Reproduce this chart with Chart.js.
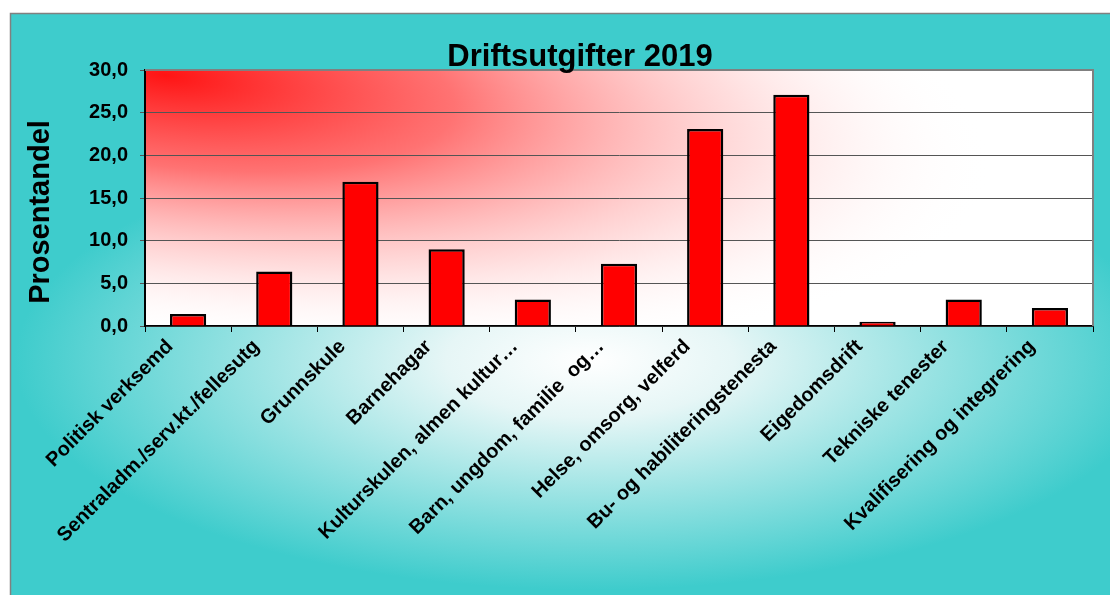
<!DOCTYPE html>
<html>
<head>
<meta charset="utf-8">
<script src="https://cdn.jsdelivr.net/npm/chart.js@4"></script>
<style>
  body { margin: 0; background: #fff; }
  #wrap { width: 1110px; height: 595px; }
</style>
</head>
<body>
<div id="wrap"><canvas id="myBarChart"></canvas></div>
<script>
var kategoriar = ['Politisk verksemd', 'Sentraladm./serv.kt./fellesutg', 'Grunnskule', 'Barnehagar',
    'Kulturskulen, almen kultur…', 'Barn, ungdom, familie  og…', 'Helse, omsorg, velferd',
    'Bu- og habiliteringstenesta', 'Eigedomsdrift', 'Tekniske tenester', 'Kvalifisering og integrering'];
var prosent = [1.4, 6.4, 16.9, 9.0, 3.1, 7.3, 23.1, 27.1, 0.5, 3.1, 2.1];
var yTicks = [0, 5, 10, 15, 20, 25, 30];
var tittel = 'Driftsutgifter 2019';
var yTittel = 'Prosentandel';

var font = '"Liberation Sans", Arial, sans-serif';

// bakgrunn, ramme rundt plottet og titlar
var bakgrunn = {
    id: 'bakgrunn',
    beforeDraw: function (chart) {
        var ctx = chart.ctx;
        var a = chart.chartArea;
        ctx.save();
        // ytre turkis med lys midte
        ctx.save();
        ctx.translate(590, 360);
        ctx.scale(2.5, 1);
        var g = ctx.createRadialGradient(0, 0, 0, 0, 0, 230);
        g.addColorStop(0, '#ffffff');
        g.addColorStop(0.25, '#e6f6f6');
        g.addColorStop(1, '#3ecccc');
        ctx.fillStyle = g;
        ctx.fillRect(-590 / 2.5, -360, 1110 / 2.5, 595);
        ctx.restore();
        ctx.fillStyle = '#ffffff';
        ctx.fillRect(0, 0, 1110, 13);
        ctx.fillRect(0, 0, 10, 595);
        ctx.strokeStyle = '#808080';
        ctx.lineWidth = 1.5;
        ctx.strokeRect(10.5, 13.5, 1110, 600);

        // raud gradient i plottet
        ctx.save();
        ctx.beginPath();
        ctx.rect(a.left, a.top, a.right - a.left, a.bottom - a.top);
        ctx.clip();
        ctx.fillStyle = '#ffffff';
        ctx.fillRect(a.left, a.top, a.right - a.left, a.bottom - a.top);
        ctx.translate(a.left + 20, a.top + 5);
        ctx.rotate(0.12);
        ctx.scale(3.2, 1);
        var r = ctx.createRadialGradient(0, 0, 0, 0, 0, 260);
        r.addColorStop(0, 'rgba(255,20,20,1)');
        r.addColorStop(0.35, 'rgba(255,90,90,0.85)');
        r.addColorStop(0.7, 'rgba(255,180,180,0.45)');
        r.addColorStop(1, 'rgba(255,255,255,0)');
        ctx.fillStyle = r;
        ctx.fillRect(-100, -100, 500, 500);
        ctx.restore();
        ctx.restore();
    },
    afterDraw: function (chart) {
        var ctx = chart.ctx;
        var a = chart.chartArea;
        ctx.save();
        ctx.strokeStyle = '#808080';
        ctx.lineWidth = 2;
        ctx.beginPath();
        ctx.moveTo(a.left, a.top);
        ctx.lineTo(a.right, a.top);
        ctx.lineTo(a.right, a.bottom);
        ctx.stroke();
        ctx.fillStyle = '#000';
        ctx.textAlign = 'center';
        ctx.textBaseline = 'middle';
        ctx.font = 'bold 31px ' + font;
        ctx.fillText(tittel, 580, 57);
        ctx.translate(41, 212);
        ctx.rotate(-Math.PI / 2);
        ctx.font = 'bold 29px ' + font;
        ctx.fillText(yTittel, 0, 0);
        ctx.restore();
    }
};

var ctx = document.getElementById('myBarChart').getContext('2d');
var myBarChart = new Chart(ctx, {
    type: 'bar',
    data: {
        labels: kategoriar,
        datasets: [{
            data: prosent,
            backgroundColor: '#ff0000',
            borderColor: '#000000',
            borderWidth: 2.5,
            barPercentage: 0.42,
            categoryPercentage: 1
        }]
    },
    options: {
        responsive: true,
        maintainAspectRatio: false,
        animation: false,
        layout: { padding: { left: 18, top: 70, right: 17, bottom: 0 } },
        plugins: {
            legend: { display: false },
            title: { display: false },
            tooltip: { enabled: false }
        },
        scales: {
            x: {
                grid: { drawOnChartArea: false, drawTicks: true, tickLength: 6, color: '#000' },
                border: { color: '#000', width: 1.5 },
                ticks: {
                    color: '#000',
                    maxRotation: 45,
                    minRotation: 45,
                    autoSkip: false,
                    labelOffset: -18,
                    font: { family: font, size: 20, weight: 'bold' }
                },
                afterFit: function (scale) { scale.height = 269; }
            },
            y: {
                min: 0,
                max: 30,
                afterBuildTicks: function (scale) {
                    scale.ticks = yTicks.map(function (v) { return { value: v }; });
                },
                grid: { color: '#555555', lineWidth: 1, tickLength: 5 },
                border: { color: '#000', width: 2 },
                ticks: {
                    color: '#000',
                    padding: 12,
                    font: { family: font, size: 20, weight: 'bold' },
                    callback: function (v) { return Number(v).toFixed(1).replace('.', ','); }
                },
                afterFit: function (scale) { scale.width = 127; }
            }
        }
    },
    plugins: [bakgrunn]
});
</script>
</body>
</html>
